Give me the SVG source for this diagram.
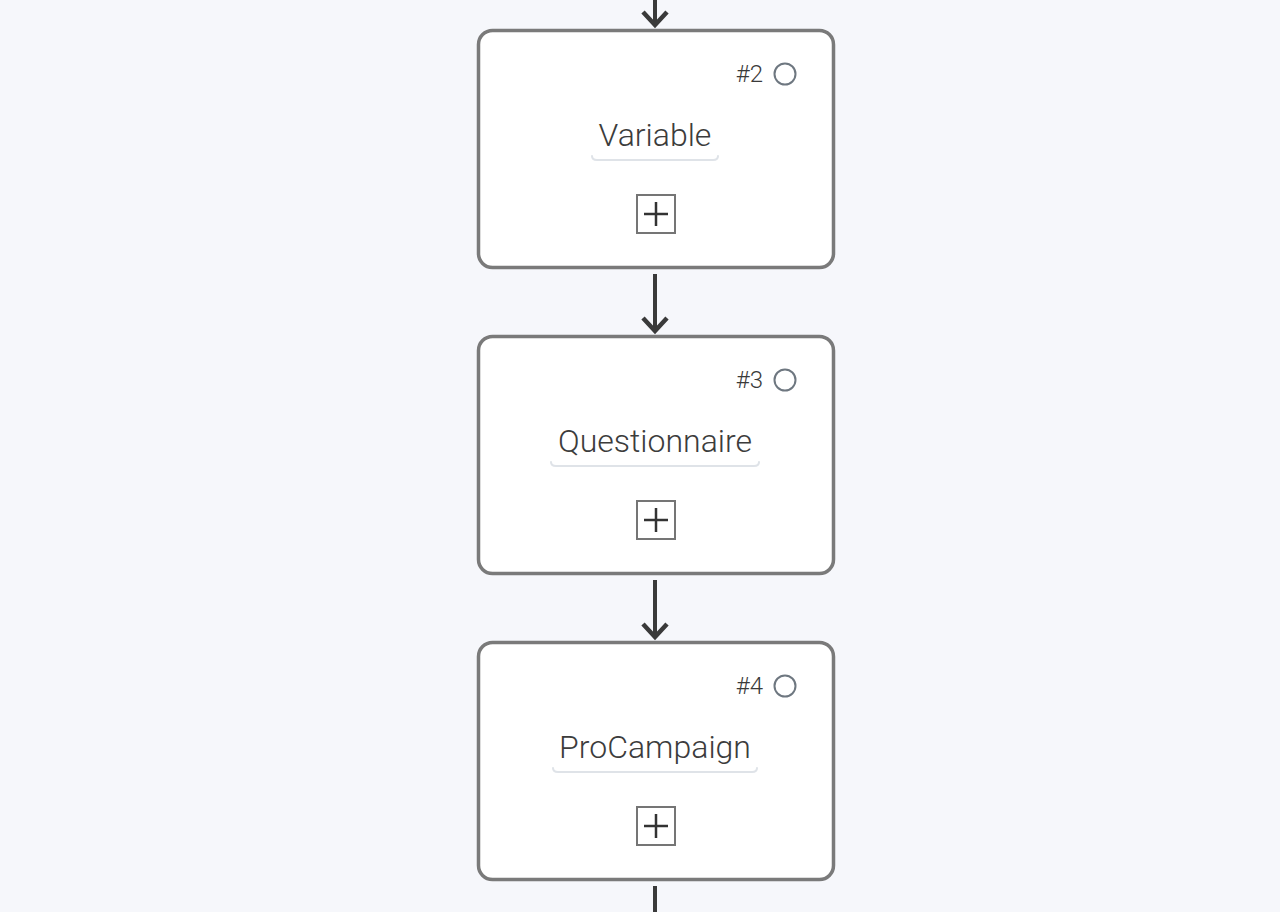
<svg xmlns="http://www.w3.org/2000/svg" width="1280" height="912" viewBox="0 0 1280 912">
<style>
.bg{fill:#f6f7fb}
.box{fill:#fff;stroke:#7a7a7a;stroke-width:3.5}
.num{font-family:Roboto,"Liberation Sans",sans-serif;font-weight:300;font-size:24px;fill:#3a3a3a;text-anchor:end}
.st{fill:none;stroke:#6e7780;stroke-width:2}
.lbl{font-family:Roboto,"Liberation Sans",sans-serif;font-weight:300;font-size:32px;fill:#3c3c3c;text-anchor:middle}
.ul{fill:none;stroke:#dfe3e8;stroke-width:2;stroke-linecap:round}
.pb{fill:#fff;stroke:#757575;stroke-width:2}
.pl{stroke:#333;stroke-width:2.5}
.edge{stroke:#3a3a3a;stroke-width:4;fill:none}
.head{stroke:#3a3a3a;stroke-width:4.5;fill:none;stroke-linejoin:miter}
</style>
<rect class="bg" x="0" y="0" width="1280" height="912"/>
<g id="connectors">
<line class="edge" x1="655" y1="0" x2="655" y2="25"/>
<polyline class="head" points="643,12 655,25 667,12"/>
<line class="edge" x1="655" y1="274" x2="655" y2="331"/>
<polyline class="head" points="643,318 655,331 667,318"/>
<line class="edge" x1="655" y1="580" x2="655" y2="637"/>
<polyline class="head" points="643,624 655,637 667,624"/>
<line class="edge" x1="655" y1="886" x2="655" y2="912"/>
</g>
<g id="node2">
<rect class="box" x="478.5" y="30.5" width="355" height="237" rx="14"/>
<text class="num" x="763" y="82">#2</text>
<circle class="st" cx="785" cy="74" r="10.5"/>
<text class="lbl" x="655" y="146">Variable</text>
<path class="ul" d="M592,156 Q592,160 597,160 L713,160 Q718,160 718,156"/>
<rect class="pb" x="637" y="195" width="38" height="38"/>
<line class="pl" x1="644" y1="214" x2="668" y2="214"/>
<line class="pl" x1="656" y1="202" x2="656" y2="226"/>
</g>
<g id="node3">
<rect class="box" x="478.5" y="336.5" width="355" height="237" rx="14"/>
<text class="num" x="763" y="388">#3</text>
<circle class="st" cx="785" cy="380" r="10.5"/>
<text class="lbl" x="655" y="452">Questionnaire</text>
<path class="ul" d="M551,462 Q551,466 556,466 L754,466 Q759,466 759,462"/>
<rect class="pb" x="637" y="501" width="38" height="38"/>
<line class="pl" x1="644" y1="520" x2="668" y2="520"/>
<line class="pl" x1="656" y1="508" x2="656" y2="532"/>
</g>
<g id="node4">
<rect class="box" x="478.5" y="642.5" width="355" height="237" rx="14"/>
<text class="num" x="763" y="694">#4</text>
<circle class="st" cx="785" cy="686" r="10.5"/>
<text class="lbl" x="655" y="758">ProCampaign</text>
<path class="ul" d="M553,768 Q553,772 558,772 L752,772 Q757,772 757,768"/>
<rect class="pb" x="637" y="807" width="38" height="38"/>
<line class="pl" x1="644" y1="826" x2="668" y2="826"/>
<line class="pl" x1="656" y1="814" x2="656" y2="838"/>
</g>
</svg>
